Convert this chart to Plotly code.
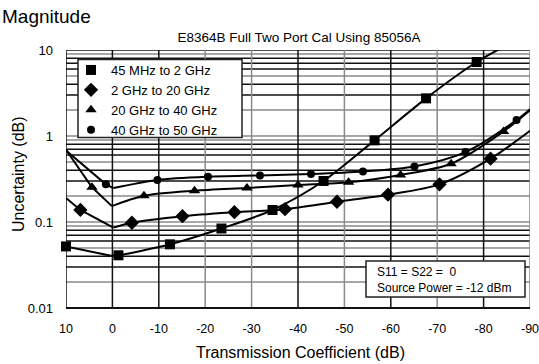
import plotly.graph_objects as go

# ---------------- data ----------------
x_ticks = [10, 0, -10, -20, -30, -40, -50, -60, -70, -80, -90]
x_tick_text = ["10", "0", "-10", "-20", "-30", "-40", "-50", "-60", "-70", "-80", "-90"]
y_ticks = [0.01, 0.1, 1, 10]
y_tick_text = ["0.01", "0.1", "1", "10"]

series_names = ["45 MHz to 2 GHz", "2 GHz to 20 GHz", "20 GHz to 40 GHz", "40 GHz to 50 GHz"]
series_symbols = ["square", "diamond", "triangle-up", "circle"]
series_msize = [10, 11, 10, 8]

# curve knots (x, y) and index of the sharp minimum
sq_curve_x = [10, 0.3, -1.3, -12.4, -23.5, -34.5, -45.5, -56.5, -67.6, -78.5, -84.5]
sq_curve_y = [0.052, 0.0405, 0.041, 0.055, 0.084, 0.138, 0.30, 0.89, 2.74, 7.25, 11.0]
sq_vertex = 1
sq_mark_x = [10, -1.3, -12.4, -23.5, -34.5, -45.5, -56.5, -67.6, -78.5]
sq_mark_y = [0.052, 0.041, 0.055, 0.084, 0.138, 0.30, 0.89, 2.74, 7.25]

dm_curve_x = [10, 6.9, -0.2, -4.2, -15.1, -26.3, -37.2, -48.4, -59.4, -70.5, -81.5, -90]
dm_curve_y = [0.19, 0.138, 0.086, 0.098, 0.117, 0.13, 0.141, 0.172, 0.208, 0.274, 0.545, 1.15]
dm_vertex = 2
dm_mark_x = [6.9, -4.2, -15.1, -26.3, -37.2, -48.4, -59.4, -70.5, -81.5]
dm_mark_y = [0.138, 0.098, 0.117, 0.13, 0.141, 0.172, 0.208, 0.274, 0.545]

tr_curve_x = [10, 4.4, 0.1, -6.8, -17.7, -29, -40, -50.9, -62.1, -73, -84.3, -90]
tr_curve_y = [0.69, 0.253, 0.153, 0.202, 0.231, 0.249, 0.269, 0.289, 0.352, 0.475, 1.13, 2.0]
tr_vertex = 2
tr_mark_x = [4.4, -6.8, -17.7, -29, -40, -50.9, -62.1, -73, -84.3]
tr_mark_y = [0.253, 0.202, 0.231, 0.249, 0.269, 0.289, 0.352, 0.475, 1.13]

ci_curve_x = [10, 1.4, -0.2, -9.7, -20.6, -31.8, -42.8, -54, -65.1, -76.1, -87.1, -90]
ci_curve_y = [0.68, 0.274, 0.248, 0.308, 0.336, 0.348, 0.362, 0.387, 0.442, 0.65, 1.53, 2.05]
ci_vertex = 2
ci_mark_x = [1.4, -9.7, -20.6, -31.8, -42.8, -54, -65.1, -76.1, -87.1]
ci_mark_y = [0.274, 0.308, 0.336, 0.348, 0.362, 0.387, 0.442, 0.65, 1.53]

curves = [
    (sq_curve_x, sq_curve_y, sq_vertex, sq_mark_x, sq_mark_y),
    (dm_curve_x, dm_curve_y, dm_vertex, dm_mark_x, dm_mark_y),
    (tr_curve_x, tr_curve_y, tr_vertex, tr_mark_x, tr_mark_y),
    (ci_curve_x, ci_curve_y, ci_vertex, ci_mark_x, ci_mark_y),
]

# ---------------- figure ----------------
FONT = "Liberation Sans, Arial, sans-serif"

fig = go.Figure()

for i, (cx, cy, v, mx, my) in enumerate(curves):
    # left, straight part down to the sharp minimum
    fig.add_trace(go.Scatter(x=cx[:v + 1], y=cy[:v + 1], mode="lines",
                             line=dict(color="black", width=2),
                             showlegend=False, hoverinfo="skip"))
    # right, smooth part
    fig.add_trace(go.Scatter(x=cx[v:], y=cy[v:], mode="lines",
                             line=dict(color="black", width=2, shape="spline", smoothing=0.8),
                             showlegend=False, hoverinfo="skip"))

for i, (cx, cy, v, mx, my) in enumerate(curves):
    fig.add_trace(go.Scatter(x=mx, y=my, mode="markers", name=series_names[i],
                             marker=dict(symbol=series_symbols[i], size=series_msize[i],
                                         color="black", line=dict(width=0)),
                             cliponaxis=False))

# grid lines (alternating black / grey like the reference)
shapes = []
mult_colors = {1: "#8a8a8a", 2: "#8a8a8a", 3: "#111", 4: "#111", 5: "#8a8a8a",
               6: "#111", 7: "#111", 8: "#111", 9: "#8a8a8a"}
for dec in [0.01, 0.1, 1]:
    for m in range(1, 10):
        val = m * dec
        if abs(val - 0.01) < 1e-12:
            continue
        shapes.append(dict(type="line", xref="paper", yref="y", x0=0, x1=1, y0=val, y1=val,
                           line=dict(color=mult_colors[m], width=1.5), layer="below"))
shapes.append(dict(type="line", xref="paper", yref="y", x0=0, x1=1, y0=10, y1=10,
                   line=dict(color="#111", width=1.5), layer="below"))
vcol = {10: "#111", 0: "#111", -10: "#111", -20: "#8a8a8a", -30: "#8a8a8a", -40: "#111",
        -50: "#8a8a8a", -60: "#111", -70: "#8a8a8a", -80: "#111", -90: "#8a8a8a"}
for xv in x_ticks:
    shapes.append(dict(type="line", xref="x", yref="paper", x0=xv, x1=xv, y0=0, y1=1,
                       line=dict(color=vcol[xv], width=1.5), layer="below"))
# bottom axis line
shapes.append(dict(type="line", xref="paper", yref="paper", x0=0, x1=1, y0=0, y1=0,
                   line=dict(color="#111", width=2), layer="above"))

# legend box and note box (pixel -> paper conversions based on plot area)
L, R, T, B = 66, 530, 50, 308
W, H = R - L, B - T
def px(x):
    return (x - L) / W
def py(y):
    return (B - y) / H

shapes.append(dict(type="rect", xref="paper", yref="paper",
                   x0=px(78), x1=px(242), y0=py(137.5), y1=py(59.5),
                   fillcolor="white", line=dict(color="#222", width=1.5), layer="above"))
shapes.append(dict(type="rect", xref="paper", yref="paper",
                   x0=px(366), x1=px(525), y0=py(297), y1=py(261),
                   fillcolor="white", line=dict(color="#222", width=1.5), layer="above"))

annotations = [
    dict(text="Magnitude", xref="paper", yref="paper", x=px(0), y=py(16),
         xanchor="left", yanchor="middle", showarrow=False,
         font=dict(family=FONT, size=19, color="black")),
    dict(text="S11 = S22 =  0<br>Source Power = -12 dBm", xref="paper", yref="paper",
         x=px(375), y=py(279.5), xanchor="left", yanchor="middle", align="left",
         showarrow=False, font=dict(family=FONT, size=12, color="black")),
    dict(text="Transmission Coefficient (dB)", xref="paper", yref="paper",
         x=px(300), y=py(352), xanchor="center", yanchor="middle", showarrow=False,
         font=dict(family=FONT, size=16, color="black")),
    dict(text="Uncertainty (dB)", xref="paper", yref="paper", textangle=-90,
         x=px(18), y=py(174), xanchor="center", yanchor="middle", showarrow=False,
         font=dict(family=FONT, size=16, color="black")),
]

fig.update_layout(
    width=539, height=364,
    margin=dict(l=L, r=539 - R, t=T, b=364 - B, autoexpand=False),
    paper_bgcolor="white", plot_bgcolor="white",
    title=dict(text="E8364B Full Two Port Cal Using 85056A", x=px(299), xref="paper",
               y=1 - 37.5 / 364, yref="container", xanchor="center", yanchor="middle",
               font=dict(family=FONT, size=13.5, color="black")),
    xaxis=dict(range=[10, -90], tickvals=x_ticks, ticktext=x_tick_text,
               showgrid=False, zeroline=False, showline=False, ticks="",
               ticklabelstandoff=11, ticklabeloverflow="allow", automargin=False,
               tickfont=dict(family=FONT, size=12.5, color="black")),
    yaxis=dict(type="log", range=[-2, 1], tickvals=y_ticks, ticktext=y_tick_text,
               showgrid=False, zeroline=False, showline=False, ticks="",
               ticklabelstandoff=12, ticklabeloverflow="allow", automargin=False,
               tickfont=dict(family=FONT, size=13, color="black")),
    legend=dict(x=px(71), y=py(55), xanchor="left", yanchor="top",
                bgcolor="rgba(0,0,0,0)", borderwidth=0,
                font=dict(family=FONT, size=13, color="black"),
                itemwidth=30, tracegroupgap=0),
    shapes=shapes,
    annotations=annotations,
    showlegend=True,
)

fig.write_html("out.html", config={"displayModeBar": False},
               post_script="document.body.style.margin='0';")
